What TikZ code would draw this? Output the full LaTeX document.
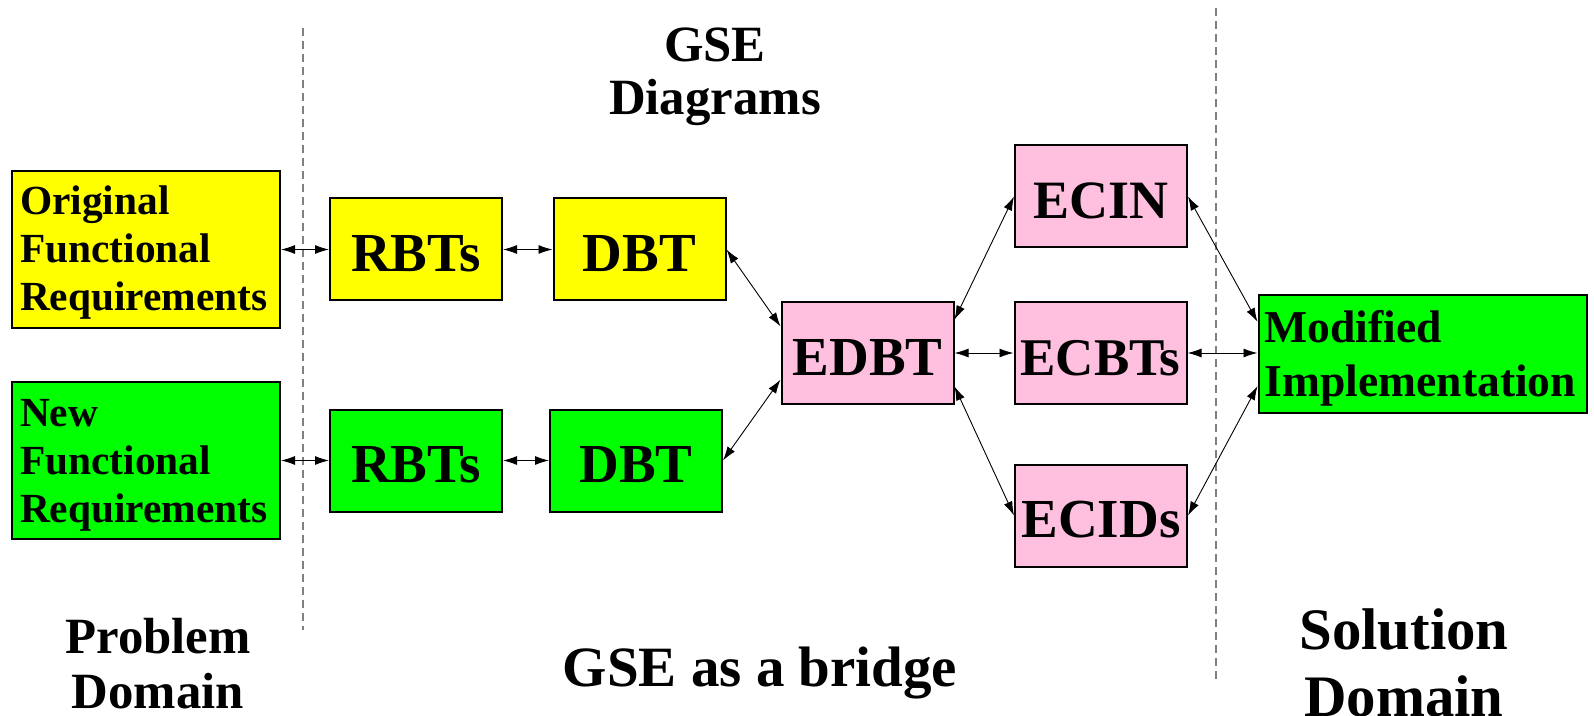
\documentclass[tikz,border=0pt]{standalone}
\usepackage{fontspec}
\setmainfont{Liberation Serif}
\usetikzlibrary{arrows.meta}
\definecolor{boxyellow}{RGB}{255,255,0}
\definecolor{boxgreen}{RGB}{0,255,0}
\definecolor{boxpink}{RGB}{255,192,224}
\newcommand{\stagebox}[5]{%
  \node[stage,fill=#3,#4] (#1) at (#2) {#5};
}
\tikzset{
  stage/.style={draw,line width=1pt,minimum width=86pt,minimum height=51pt,inner sep=0pt,
    text height=22pt,text depth=0pt,
    font=\fontsize{27.5}{30}\selectfont\bfseries},
  reqbox/.style={draw,line width=1pt,minimum width=134pt,minimum height=78.5pt,
    inner sep=0pt,text height=0pt,text depth=34.5pt,
    font=\fontsize{20.7}{24}\selectfont\bfseries},
  twoway/.style={{Latex[length=7pt,width=4.5pt]}-{Latex[length=7pt,width=4.5pt]},line width=0.45pt},
  divider/.style={gray,line width=0.6pt,dash pattern=on 4pt off 2.5pt}
}

\begin{document}
\begin{tikzpicture}[x=0.5pt,y=-0.5pt]
  \useasboundingbox (0,0) rectangle (1594,716);

  \draw[divider] (303,28) -- (303,630);
  \draw[divider] (1216,8) -- (1216,679);

  \node[reqbox,fill=boxyellow] (origreq) at (146,249.5)
    {\parbox[t]{126pt}{Original\\Functional\\Requirements}};
  \node[reqbox,fill=boxgreen] (newreq) at (146,460.5)
    {\parbox[t]{126pt}{New\\Functional\\Requirements}};

  \stagebox{rbtA}{416,249.5}{boxyellow}{}{RBTs}
  \stagebox{dbtA}{639.5,249.5}{boxyellow}{}{DBT}
  \stagebox{rbtB}{416,460.5}{boxgreen}{}{RBTs}
  \stagebox{dbtB}{636,460.5}{boxgreen}{}{DBT}

  \stagebox{edbt}{867.5,353}{boxpink}{}{EDBT}
  \stagebox{ecin}{1101,196.5}{boxpink}{font=\fontsize{27}{30}\selectfont\bfseries}{ECIN}
  \stagebox{ecbts}{1100.5,353}{boxpink}{font=\fontsize{26.5}{30}\selectfont\bfseries}{ECBTs}
  \stagebox{ecids}{1101,515.5}{boxpink}{}{ECIDs}

  \node[draw,line width=1pt,fill=boxgreen,minimum width=164pt,minimum height=58.5pt,
    inner sep=0pt,text height=0pt,text depth=11pt,
    font=\fontsize{22.8}{27}\selectfont\bfseries] (modimpl) at (1422.5,354)
    {\parbox[t]{158pt}{Modified\\Implementation}};

  \draw[twoway] (origreq) -- (rbtA);
  \draw[twoway] (rbtA) -- (dbtA);
  \draw[twoway] (newreq) -- (rbtB);
  \draw[twoway] (rbtB) -- (dbtB);

  \draw[twoway] (dbtA.east) -- (edbt.163);
  \draw[twoway] (dbtB.east) -- (edbt.197);

  \draw[twoway] (edbt.21) -- (ecin.west);
  \draw[twoway] (edbt) -- (ecbts);
  \draw[twoway] (edbt.339) -- (ecids.west);

  \draw[twoway] (ecin.east) -- (modimpl.169);
  \draw[twoway] (ecbts.east) -- (modimpl.west |- ecbts.east);
  \draw[twoway] (ecids.east) -- (modimpl.191);

  \node[align=center,font=\fontsize{25.4}{26.5}\selectfont\bfseries] (gsediag) at (715,76.5) {GSE\\Diagrams};
  \node[align=center,font=\fontsize{25.4}{27.5}\selectfont\bfseries] (probdom) at (158,664) {Problem\\Domain};
  \node[font=\fontsize{28.5}{30}\selectfont\bfseries] (bridge) at (760,673) {GSE as a bridge};
  \node[align=center,font=\fontsize{29.4}{33.5}\selectfont\bfseries] (soldom) at (1404,663) {Solution\\Domain};
\end{tikzpicture}
\end{document}
